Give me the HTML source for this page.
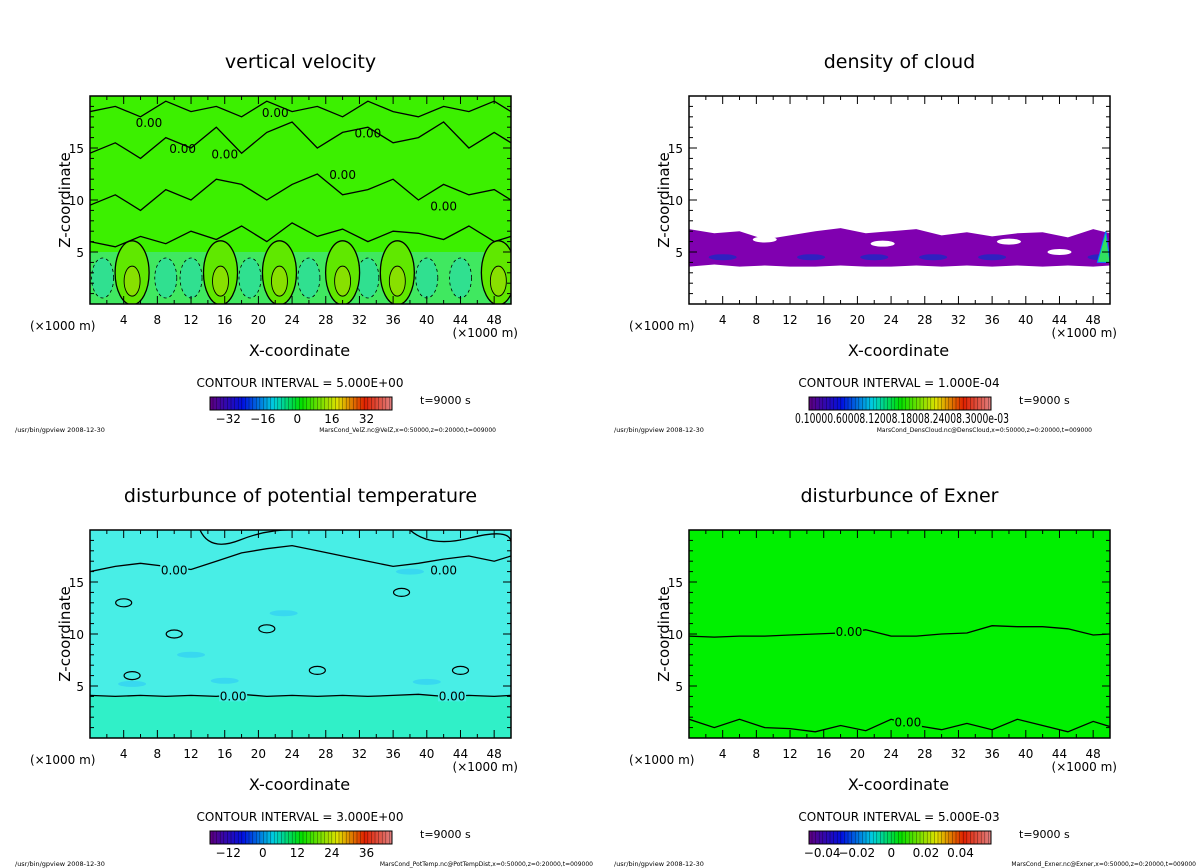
<!DOCTYPE html>
<html><head><meta charset="utf-8"><style>
html,body{margin:0;padding:0;background:#fff;}
svg{display:block;font-family:"DejaVu Sans","Liberation Sans",sans-serif;}
</style></head><body>
<svg id="root" width="1200" height="868" viewBox="0 0 1200 868" xmlns="http://www.w3.org/2000/svg"></svg>
<script>
// ---- data ----
const xTicks = [4,8,12,16,20,24,28,32,36,40,44,48];
const zTicks = [5,10,15];
const xRange = [0,50];
const zRange = [0,20];
const titles = ["vertical velocity","density of cloud","disturbunce of potential temperature","disturbunce of Exner"];
const intervals = ["5.000E+00","1.000E-04","3.000E+00","5.000E-03"];
const cbLabels0 = ["-32","-16","0","16","32"];
const cbLabels1 = ["0.10000.60008.12008.18008.24008.3000e-03"];
const cbLabels2 = ["-12","0","12","24","36"];
const cbLabels3 = ["-0.04","-0.02","0","0.02","0.04"];
const footers = ["MarsCond_VelZ.nc@VelZ,x=0:50000,z=0:20000,t=009000","MarsCond_DensCloud.nc@DensCloud,x=0:50000,z=0:20000,t=009000","MarsCond_PotTemp.nc@PotTempDist,x=0:50000,z=0:20000,t=009000","MarsCond_Exner.nc@Exner,x=0:50000,z=0:20000,t=009000"];
// contour sample x positions (km)
const cx = [0,3,6,9,12,15,18,21,24,27,30,33,36,39,42,45,48,50];
// vertical velocity contours (z in km)
const vz1 = [6.0,5.5,6.5,5.8,7.0,6.2,7.5,6.0,7.8,6.5,7.2,6.0,7.0,6.8,6.2,7.5,6.0,6.5];
const vz2 = [9.5,10.5,9.0,11.0,10.0,12.0,11.5,10.0,11.5,12.5,10.5,11.0,12.0,10.0,11.5,10.5,11.0,10.0];
const vz3 = [14.5,15.5,14.0,16.0,15.0,17.0,14.5,16.5,17.5,15.0,16.5,17.0,15.5,16.0,17.5,15.0,16.5,15.5];
const vz4 = [18.5,19.0,18.0,19.5,18.5,19.0,18.0,19.5,18.5,19.0,18.0,19.5,18.5,18.0,19.0,18.5,19.5,18.5];
const upX = [5,15.5,22.5,30,36.5,48.5];
const downX = [1.5,9,12,19,26,33,40,44];
// cloud band
const cloudTop = [7.2,6.8,7.0,6.2,6.6,7.0,7.3,6.8,7.0,7.2,6.6,6.9,6.5,6.8,6.9,6.4,7.2,6.8];
const cloudBot = [3.6,3.8,3.6,3.7,3.6,3.6,3.7,3.6,3.6,3.7,3.6,3.7,3.6,3.7,3.6,3.7,3.6,3.7];
const cloudCores = [4,14.5,22,29,36,49];
// potential temperature contours
const pz1 = [4.1,4.0,4.1,4.0,4.1,4.0,4.2,4.0,4.1,4.0,4.1,4.0,4.1,4.2,4.0,4.1,4.0,4.1];
const pz2 = [16.0,16.5,16.8,16.5,16.2,17.0,17.8,18.2,18.5,18.0,17.5,17.0,16.5,16.8,17.2,17.5,17.0,17.5];
// exner contours
const ez1 = [9.8,9.7,9.8,9.8,9.9,10.0,10.1,10.4,9.8,9.8,10.0,10.1,10.8,10.7,10.7,10.5,9.9,10.0];
const ez2 = [1.8,1.0,1.8,1.0,0.9,0.6,1.2,0.7,1.8,1.2,0.8,1.4,0.8,1.8,1.2,0.6,1.6,1.1];

const NS="http://www.w3.org/2000/svg";
const root=document.getElementById('root');
function mk(tag,attrs,parent){const e=document.createElementNS(NS,tag);for(const k in attrs)e.setAttribute(k,attrs[k]);(parent||root).appendChild(e);return e;}
function txt(s,x,y,size,anchor,parent){const t=mk('text',{x:x,y:y,'font-size':size,'text-anchor':anchor||'middle',fill:'#000'},parent);t.textContent=s;return t;}

const panels=[{ox:0,oy:0,fe:496},{ox:599,oy:0,fe:1092},{ox:0,oy:434,fe:593},{ox:599,oy:434,fe:1196}];
const cbL=[cbLabels0,cbLabels1,cbLabels2,cbLabels3];

panels.forEach((p,i)=>{
  const g=mk('g',{});
  
  
  const X0=90+p.ox, X1=511+p.ox, Y0=96+p.oy, Y1=304+p.oy;
  const sx=v=>X0+(v-xRange[0])/(xRange[1]-xRange[0])*(X1-X0);
  const sz=v=>Y1-(v-zRange[0])/(zRange[1]-zRange[0])*(Y1-Y0);
  const bg=['#3cf000','#ffffff','#48eee6','#00f000'][i];
  const plot=mk('g',{},g);
  
  
  mk('rect',{x:X0,y:Y0,width:X1-X0,height:Y1-Y0,fill:bg},plot);
  const clip='c'+i;
  const cp=mk('clipPath',{id:clip},g);mk('rect',{x:X0,y:Y0,width:X1-X0,height:Y1-Y0},cp);
  const inner=mk('g',{'clip-path':'url(#'+clip+')'},plot);
  const line=(arr,extra)=>{let d='';cx.forEach((x,k)=>{d+=(k?'L':'M')+sx(x).toFixed(1)+','+sz(arr[k]).toFixed(1);});return mk('path',Object.assign({d:d,fill:'none',stroke:'#000','stroke-width':1.3},extra||{}),inner);};
  if(i===0){
    mk('rect',{x:X0,y:sz(5),width:X1-X0,height:Y1-sz(5),fill:'#40e860'},inner);
    downX.forEach(x=>{const e=mk('ellipse',{cx:sx(x),cy:sz(2.5),rx:11,ry:20,fill:'#30e090',stroke:'#000','stroke-width':0.8,'stroke-dasharray':'3,3'},inner);});
    upX.forEach(x=>{mk('ellipse',{cx:sx(x),cy:sz(3),rx:17,ry:32,fill:'#60e800',stroke:'#000','stroke-width':1.3},inner);
      const e=mk('ellipse',{cx:sx(x),cy:sz(2.2),rx:8,ry:15,fill:'#88e000',stroke:'#000','stroke-width':0.9},inner);});
    [vz1,vz2,vz3,vz4].forEach(a=>line(a));
    [[7,17],[11,14.5],[16,14],[22,18],[33,16],[30,12],[42,9]].forEach(q=>txt('0.00',sx(q[0]),sz(q[1]),12,'middle',inner));
  }
  if(i===1){
    let d='';cx.forEach((x,k)=>{d+=(k?'L':'M')+sx(x).toFixed(1)+','+sz(cloudTop[k]).toFixed(1);});
    for(let k=cx.length-1;k>=0;k--)d+='L'+sx(cx[k]).toFixed(1)+','+sz(cloudBot[k]).toFixed(1);
    const c=mk('path',{d:d+'Z',fill:'#8000b0'},inner);
    
    [[9,6.2],[23,5.8],[38,6.0],[44,5.0]].forEach(q=>mk('ellipse',{cx:sx(q[0]),cy:sz(q[1]),rx:12,ry:3,fill:'#fff'},inner));
    cloudCores.forEach(x=>mk('ellipse',{cx:sx(x),cy:sz(4.5),rx:14,ry:3,fill:'#3020c0'},inner));
    mk('path',{d:`M${sx(48.5)},${sz(4)} L${sx(49.5)},${sz(7)} L${sx(50)},${sz(4)}Z`,fill:'#30e060',stroke:'#0080ff'},inner);
  }
  if(i===2){
    mk('rect',{x:X0,y:sz(4.1),width:X1-X0,height:Y1-sz(4.1),fill:'#30f0c8'},inner);
    [[5,5.2],[16,5.5],[40,5.4],[23,12],[38,16],[12,8]].forEach(q=>mk('ellipse',{cx:sx(q[0]),cy:sz(q[1]),rx:14,ry:3,fill:'#38d8f0'},inner));
    line(pz1);line(pz2);
    [[4,13],[10,10],[21,10.5],[37,14],[44,6.5],[5,6],[27,6.5]].forEach(q=>mk('ellipse',{cx:sx(q[0]),cy:sz(q[1]),rx:8,ry:4,fill:'none',stroke:'#000','stroke-width':1.2},inner));
    mk('path',{d:`M${X0+110},${Y0} Q${X0+120},${Y0+22} ${X0+150},${Y0+10} T${X0+210},${Y0} M${X0+320},${Y0} Q${X0+340},${Y0+18} ${X0+380},${Y0+8} T${X1},${Y0+12}`,fill:'none',stroke:'#000','stroke-width':1.3},inner);
    [[10,16.2],[42,16.2],[17,4.1],[43,4.1]].forEach(q=>{mk('rect',{x:sx(q[0])-14,y:sz(q[1])-6,width:28,height:12,fill:bg},inner);txt('0.00',sx(q[0]),sz(q[1])+5,12,'middle',inner);});
  }
  if(i===3){
    line(ez1);line(ez2);
    [[19,10.3],[26,1.6]].forEach(q=>{mk('rect',{x:sx(q[0])-14,y:sz(q[1])-6,width:28,height:12,fill:bg},inner);txt('0.00',sx(q[0]),sz(q[1])+5,12,'middle',inner);});
  }
  mk('rect',{x:X0,y:Y0,width:X1-X0,height:Y1-Y0,fill:'none',stroke:'#000','stroke-width':1.5},plot);
  // ticks
  for(let v=2;v<50;v+=2){const big=v%4===0;const x=sx(v);
    mk('line',{x1:x,y1:Y1,x2:x,y2:Y1-(big?8:4),stroke:'#000'},g);mk('line',{x1:x,y1:Y0,x2:x,y2:Y0+(big?8:4),stroke:'#000'},g);}
  for(let v=1;v<20;v++){const big=v%5===0;const y=sz(v);
    mk('line',{x1:X0,y1:y,x2:X0+(big?8:4),y2:y,stroke:'#000'},g);mk('line',{x1:X1,y1:y,x2:X1-(big?8:4),y2:y,stroke:'#000'},g);}
  xTicks.forEach(v=>{const t=txt(String(v),sx(v),Y1+20,12,'middle',g);});
  zTicks.forEach(v=>{const t=txt(String(v),X0-6,sz(v)+5,12,'end',g);});
  txt('(×1000 m)',X0-60,Y1+26,12,'start',g);
  txt('(×1000 m)',X1+7,Y1+33,12,'end',g);
  const xt=txt('X-coordinate',sx(25)-1,Y1+52,16,'middle',g);
  const zt=txt('Z-coordinate',0,0,15,'middle',g);zt.setAttribute('transform',`translate(${X0-20},${(Y0+Y1)/2}) rotate(-90)`);
  
  const tt=txt(titles[i],sx(25),Y0-28,19,'middle',g);
  txt('CONTOUR INTERVAL = '+intervals[i],300+p.ox,387+p.oy,12,'middle',g);
  // colorbar
  const gid='gr'+i;
  const lg=mk('linearGradient',{id:gid},g);
  [['0','#600080'],['0.18','#0010e0'],['0.35','#00d0e0'],['0.5','#00e000'],['0.7','#e0e000'],['0.85','#e02000'],['1','#e08080']].forEach(s=>mk('stop',{offset:s[0],'stop-color':s[1]},lg));
  const cb=mk('g',{},g);
  const bx=210+p.ox,by=397+p.oy,bw=182,bh=13;
  mk('rect',{x:bx,y:by,width:bw,height:bh,fill:`url(#${gid})`},cb);
  for(let k=bx+3;k<bx+bw;k+=3.6)mk('line',{x1:k,y1:by,x2:k,y2:by+bh,stroke:'#000','stroke-width':0.5,'stroke-opacity':0.6},cb);
  mk('rect',{x:bx,y:by,width:bw,height:bh,fill:'none',stroke:'#000','stroke-width':1},cb);
  const labs=cbL[i];
  if(labs.length===1){const t=txt(labs[0],bx+bw/2+2,by+26,13,'middle',cb);t.setAttribute('textLength','214');t.setAttribute('lengthAdjust','spacingAndGlyphs');}
  else labs.forEach((s,k)=>{const x=bx+bw*(0.1+0.19*k)+(i===3?-5:0);txt(s.replace('-','−'),x,by+26,12,'middle',cb);});
  txt('t=9000 s',420+p.ox,404+p.oy,11,'start',g);
  txt('/usr/bin/gpview  2008-12-30',15+p.ox,432+p.oy,6.5,'start',g);
  txt(footers[i],p.fe,432+p.oy,6,'end',g);
});
</script>
</body></html>
